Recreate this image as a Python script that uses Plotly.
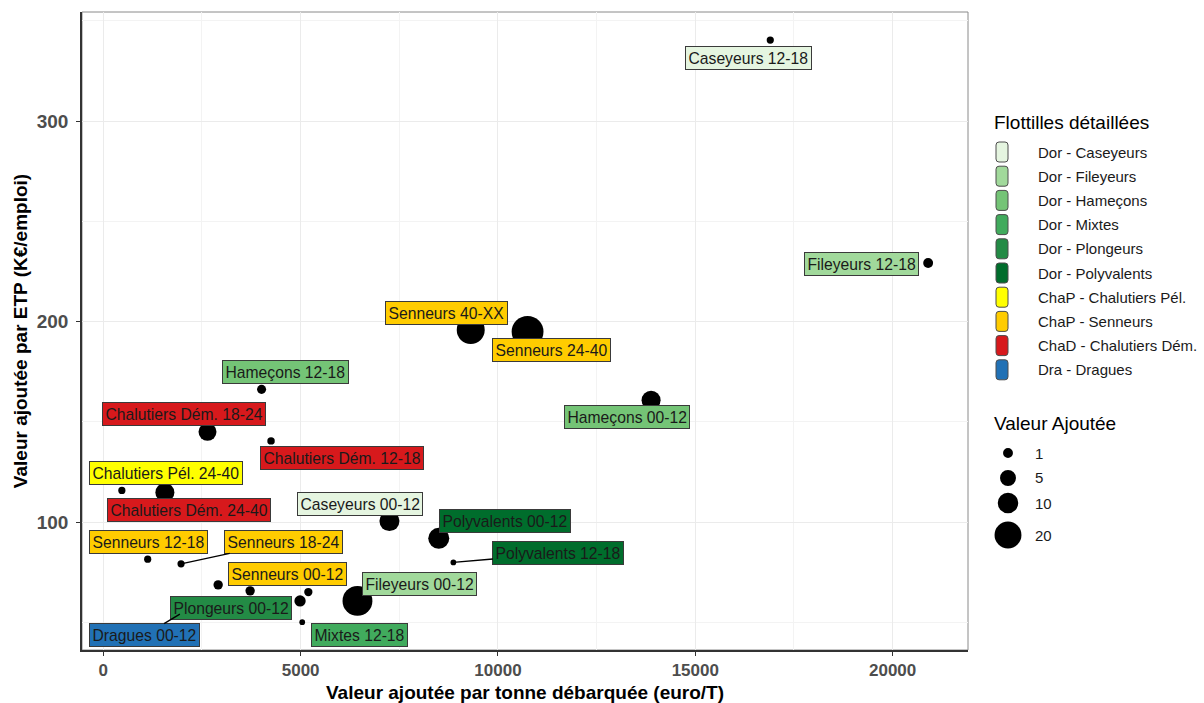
import plotly.graph_objects as go
import numpy as np

# données
flottilles = ["Caseyeurs 12-18", "Fileyeurs 12-18", "Senneurs 40-XX", "Senneurs 24-40",
              "Hameçons 00-12", "Hameçons 12-18", "Chalutiers Dém. 18-24", "Chalutiers Dém. 12-18",
              "Chalutiers Pél. 24-40", "Chalutiers Dém. 24-40", "Caseyeurs 00-12", "Polyvalents 00-12",
              "Polyvalents 12-18", "Senneurs 12-18", "Senneurs 18-24", "Senneurs 00-12",
              "Plongeurs 00-12", "Mixtes 12-18", "Dragues 00-12", "Fileyeurs 00-12", None, None]
groupes = ["Dor - Caseyeurs", "Dor - Fileyeurs", "ChaP - Senneurs", "ChaP - Senneurs",
           "Dor - Hameçons", "Dor - Hameçons", "ChaD - Chalutiers Dém.", "ChaD - Chalutiers Dém.",
           "ChaP - Chalutiers Pél.", "ChaD - Chalutiers Dém.", "Dor - Caseyeurs", "Dor - Polyvalents",
           "Dor - Polyvalents", "ChaP - Senneurs", "ChaP - Senneurs", "ChaP - Senneurs",
           "Dor - Plongeurs", "Dor - Mixtes", "Dra - Dragues", "Dor - Fileyeurs", None, None]
va_tonne = [16900, 20900, 9310, 10750, 13880, 4010, 2640, 4250, 470, 1560, 7250, 8500,
            8870, 1125, 1970, 3720, 2910, 5040, 1940, 6440, 5195, 4985]
va_etp = [340.4, 229.2, 195.8, 194.9, 160.8, 166.2, 145.0, 140.5, 115.8, 114.8, 100.5, 91.9,
          79.9, 81.5, 79.2, 65.7, 68.7, 50.1, 54.1, 60.7, 65.1, 60.7]
valeur_ajoutee = [0.2, 1.0, 22, 30, 8.2, 0.7, 7, 0.25, 0.2, 8.2, 9.4, 10.7,
                  0.02, 0.2, 0.2, 0.8, 0.8, 0.02, 1, 25.8, 0.45, 1.65]

categories = ["Dor - Caseyeurs", "Dor - Fileyeurs", "Dor - Hameçons", "Dor - Mixtes",
              "Dor - Plongeurs", "Dor - Polyvalents", "ChaP - Chalutiers Pél.",
              "ChaP - Senneurs", "ChaD - Chalutiers Dém.", "Dra - Dragues"]
couleurs = ["#E5F5E0", "#A1D99B", "#74C476", "#41AB5D", "#238B45", "#006D2C",
            "#FFFF00", "#FFCC00", "#D7191C", "#2171B5"]
tailles_legende = [1, 5, 10, 20]

# position des étiquettes (décalage en pixels) et traits de rappel
decalages = [(-22, 18), (-67, 1), (-24, -17), (24, 18), (-24, 17), (24, -17), (-24, -18),
             (71, 17), (44, -17), (24, 18), (-29, -17), (66, -17), (105, -9), (1, -17),
             (102, -22), (37, -17), (13, 23), (57, 13), (-35, 21), (62, -17)]
avec_trait = {"Polyvalents 12-18", "Senneurs 18-24", "Dragues 00-12"}


def diametre(v):
    return 5 + 4.9 * np.sqrt(np.asarray(v, dtype=float))


col = dict(zip(categories, couleurs))
FONT = "Liberation Sans, Arial, sans-serif"

fig = go.Figure()
fig.add_trace(go.Scatter(x=va_tonne, y=va_etp, mode="markers", showlegend=False,
                         marker=dict(color="black", size=diametre(valeur_ajoutee),
                                     line=dict(width=0), opacity=1),
                         hoverinfo="skip"))

annotations = []
for i, nom in enumerate(flottilles):
    if nom is None:
        continue
    dx, dy = decalages[i]
    annotations.append(dict(
        x=va_tonne[i], y=va_etp[i], xref="x", yref="y", text=nom,
        showarrow=True, ax=dx, ay=dy, arrowhead=0, arrowwidth=1.3, standoff=0,
        arrowcolor="black" if nom in avec_trait else "rgba(0,0,0,0)",
        bgcolor=col[groupes[i]], bordercolor="#3a3a3a", borderwidth=1, borderpad=2.5,
        font=dict(family=FONT, size=15.7, color="#1a1a1a")))

# légendes dessinées à la main (pixels -> papier)
L, R, T, B = 82, 968, 12, 650


def px(xp):
    return (xp - L) / (R - L)


def py(yp):
    return (B - yp) / (B - T)


shapes = []
annotations.append(dict(x=px(992), y=py(122), xref="paper", yref="paper", text="Flottilles détaillées",
                        showarrow=False, xanchor="left", yanchor="middle",
                        font=dict(family=FONT, size=19, color="black")))
for k, (cat, c) in enumerate(zip(categories, couleurs)):
    yc = 152 + k * 24.2
    shapes.append(dict(type="path", xref="paper", yref="paper", xsizemode="pixel", ysizemode="pixel",
                       xanchor=px(1002), yanchor=py(yc), opacity=1,
                       path="M -6,-7 Q -6,-10 -3,-10 L 3,-10 Q 6,-10 6,-7 L 6,7 Q 6,10 3,10 "
                            "L -3,10 Q -6,10 -6,7 Z",
                       fillcolor=c, line=dict(color="#4d4d4d", width=1)))
    annotations.append(dict(x=px(1036), y=py(yc), xref="paper", yref="paper", text=cat,
                            showarrow=False, xanchor="left", yanchor="middle",
                            font=dict(family=FONT, size=15, color="#1a1a1a")))

annotations.append(dict(x=px(992), y=py(423), xref="paper", yref="paper", text="Valeur Ajoutée",
                        showarrow=False, xanchor="left", yanchor="middle",
                        font=dict(family=FONT, size=19, color="black")))
for v, yc in zip(tailles_legende, [453, 478, 503, 535]):
    r = diametre(v) / 2
    shapes.append(dict(type="circle", xref="paper", yref="paper", xsizemode="pixel", ysizemode="pixel",
                       xanchor=px(1008), yanchor=py(yc), x0=-r, x1=r, y0=-r, y1=r, opacity=1,
                       fillcolor="black", line=dict(width=0)))
    annotations.append(dict(x=px(1033), y=py(yc), xref="paper", yref="paper", text=str(v),
                            showarrow=False, xanchor="left", yanchor="middle",
                            font=dict(family=FONT, size=15, color="#1a1a1a")))

# cadre du panneau
shapes.append(dict(type="rect", xref="paper", yref="paper", x0=0, x1=1, y0=0, y1=1, opacity=1,
                   fillcolor="rgba(0,0,0,0)", line=dict(color="#8a8a8a", width=1), layer="below"))

fig.update_layout(
    width=1204, height=703, template="none",
    plot_bgcolor="white", paper_bgcolor="white",
    margin=dict(l=L, r=1204 - R, t=T, b=703 - B),
    font=dict(family=FONT),
    annotations=annotations, shapes=shapes, showlegend=False,
    xaxis=dict(range=[-540, 21910], tickvals=[0, 5000, 10000, 15000, 20000], tickformat="d",
               showgrid=True, gridcolor="#ebebeb", gridwidth=1,
               minor=dict(tick0=2500, dtick=5000, showgrid=True, gridcolor="#f3f3f3", gridwidth=0.6),
               showline=True, linecolor="#333333", linewidth=1.5, mirror=False,
               ticks="outside", ticklen=4, tickcolor="#333333", zeroline=False,
               ticklabelstandoff=0,
               tickfont=dict(family=FONT, size=17, color="#4d4d4d", weight="bold"),
               title=dict(text="Valeur ajoutée par tonne débarquée (euro/T)", standoff=14,
                          font=dict(family=FONT, size=19, color="black", weight="bold"))),
    yaxis=dict(range=[36.2, 354.4], tickvals=[100, 200, 300], tickformat="d",
               showgrid=True, gridcolor="#ebebeb", gridwidth=1,
               minor=dict(tick0=50, dtick=100, showgrid=True, gridcolor="#f3f3f3", gridwidth=0.6),
               showline=True, linecolor="#333333", linewidth=1.5, mirror=False,
               ticks="outside", ticklen=4, tickcolor="#333333", zeroline=False,
               ticklabelstandoff=4,
               tickfont=dict(family=FONT, size=19, color="#4d4d4d", weight="bold"),
               title=dict(text="Valeur ajoutée par ETP (K€/emploi)", standoff=4,
                          font=dict(family=FONT, size=19, color="black", weight="bold"))),
)

fig.write_html("out.html", config={"displayModeBar": False},
               post_script="document.body.style.margin='0px';")
